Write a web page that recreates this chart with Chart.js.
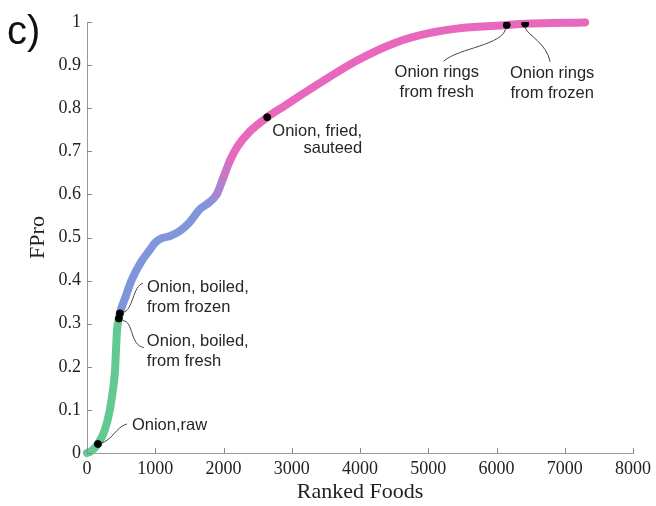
<!DOCTYPE html>
<html>
<head>
<meta charset="utf-8">
<script src="https://cdn.jsdelivr.net/npm/chart.js@4.4.0/dist/chart.umd.min.js"></script>
<style>
  html, body { margin: 0; padding: 0; background: #fff; }
  #wrap { width: 656px; height: 506px; }
</style>
</head>
<body>
<div id="wrap"><canvas id="fproChart"></canvas></div>
<script>
// ranked position of each food vs its FPro score
const rankedFoods = [0, 60, 115, 160, 260, 335, 380, 410, 425, 440, 467, 482, 560, 650, 800, 920, 1000, 1090, 1210, 1360, 1500, 1650, 1780, 1900, 2000, 2100, 2200, 2380, 2640, 2890, 3300, 3950, 4520, 5010, 5490, 6150, 6420, 7300];
const fproValues  = [0, 0.004, 0.012, 0.021, 0.053, 0.1, 0.146, 0.19, 0.24, 0.285, 0.312, 0.324, 0.36, 0.4, 0.445, 0.471, 0.488, 0.498, 0.503, 0.515, 0.535, 0.565, 0.58, 0.6, 0.64, 0.68, 0.71, 0.745, 0.779, 0.805, 0.847, 0.91, 0.952, 0.974, 0.986, 0.993, 0.996, 0.999];

// highlighted onion products
const markedNames = ['Onion,raw', 'Onion, boiled,\nfrom fresh', 'Onion, boiled,\nfrom frozen', 'Onion, fried,\nsauteed', 'Onion rings\nfrom fresh', 'Onion rings\nfrom frozen'];
const markedRanks = [160, 467, 482, 2640, 6150, 6420];
const markedFPro  = [0.021, 0.312, 0.324, 0.779, 0.993, 0.996];

const xTickValues = [0, 1000, 2000, 3000, 4000, 5000, 6000, 7000, 8000];
const yTickValues = [0, 0.1, 0.2, 0.3, 0.4, 0.5, 0.6, 0.7, 0.8, 0.9, 1];

const green = [99, 201, 146];
const blue = [128, 150, 219];
const pink = [232, 104, 190];

function colorForRank(r) {
    let c;
    if (r < 475) c = green;
    else if (r < 1800) c = blue;
    else if (r > 2150) c = pink;
    else {
        const t = (r - 1800) / 350;
        c = blue.map((v, i) => Math.round(v + (pink[i] - v) * t));
    }
    return 'rgb(' + c.join(',') + ')';
}

// label placement relative to each marked dot (pixels)
const labelLayout = [
    { dx: 34, dy: -18, lh: 20, align: 'left', lead: [[3, -1], [14, -3], [18, -17], [29, -20]] },
    { dx: 28, dy: 23, lh: 20, align: 'left', lead: [[4, 2], [15, 3], [11, 27], [25, 29]] },
    { dx: 27, dy: -26, lh: 20, align: 'left', lead: [[3, -1], [13, -2], [13, -28], [23, -30]] },
    { dx: 95, dy: 14, lh: 17, align: 'right', lead: null },
    { dx: -70, dy: 47, lh: 20, align: 'center', lead: [[-1, 3], [-3, 20], [-48, 23], [-63, 36]] },
    { dx: 27, dy: 50, lh: 20, align: 'center', lead: [[0, 4], [3, 12], [21, 19], [25, 38]] }
];

const annotatePlugin = {
    id: 'annotate',
    afterDraw(chart) {
        const ctx = chart.ctx;
        const xs = chart.scales.x;
        const ys = chart.scales.y;
        ctx.save();

        // inward tick marks
        ctx.strokeStyle = '#888';
        ctx.lineWidth = 1;
        xTickValues.forEach(v => {
            const px = Math.round(xs.getPixelForValue(v)) + 0.5;
            ctx.beginPath();
            ctx.moveTo(px, ys.bottom);
            ctx.lineTo(px, ys.bottom - 5);
            ctx.stroke();
        });
        yTickValues.forEach(v => {
            const py = Math.round(ys.getPixelForValue(v)) + 0.5;
            ctx.beginPath();
            ctx.moveTo(xs.left, py);
            ctx.lineTo(xs.left + 5, py);
            ctx.stroke();
        });

        // labels + leader lines
        ctx.font = '16.5px "Liberation Sans", Arial, sans-serif';
        ctx.fillStyle = '#262626';
        ctx.textBaseline = 'middle';
        markedNames.forEach((name, i) => {
            const px = xs.getPixelForValue(markedRanks[i]);
            const py = ys.getPixelForValue(markedFPro[i]);
            const lay = labelLayout[i];
            if (lay.lead) {
                const p = lay.lead;
                ctx.strokeStyle = '#444';
                ctx.lineWidth = 1;
                ctx.beginPath();
                ctx.moveTo(px + p[0][0], py + p[0][1]);
                ctx.bezierCurveTo(px + p[1][0], py + p[1][1], px + p[2][0], py + p[2][1], px + p[3][0], py + p[3][1]);
                ctx.stroke();
            }
            ctx.textAlign = lay.align;
            name.split('\n').forEach((line, j) => {
                ctx.fillText(line, px + lay.dx, py + lay.dy + j * lay.lh);
            });
        });

        // panel letter
        ctx.font = '40px "Liberation Sans", Arial, sans-serif';
        ctx.textAlign = 'left';
        ctx.textBaseline = 'alphabetic';
        ctx.fillStyle = '#111';
        ctx.fillText('c)', 7, 44);
        ctx.restore();
    }
};

const tickFont = { family: '"Liberation Serif", "Times New Roman", serif', size: 18 };
const titleFont = { family: '"Liberation Serif", "Times New Roman", serif', size: 22 };

new Chart(document.getElementById('fproChart'), {
    type: 'scatter',
    data: {
        datasets: [
            {
                label: 'Marked',
                data: markedRanks.map((r, i) => ({ x: r, y: markedFPro[i] })),
                backgroundColor: '#000',
                borderColor: '#000',
                pointRadius: 3.5,
                order: 0
            },
            {
                label: 'FPro',
                data: rankedFoods.map((r, i) => ({ x: r, y: fproValues[i] })),
                showLine: true,
                pointRadius: 0,
                borderWidth: 8,
                borderCapStyle: 'round',
                borderJoinStyle: 'round',
                cubicInterpolationMode: 'monotone',
                clip: false,
                segment: {
                    borderColor: c => colorForRank((c.p0.parsed.x + c.p1.parsed.x) / 2)
                },
                order: 1
            }
        ]
    },
    options: {
        responsive: true,
        maintainAspectRatio: false,
        animation: false,
        events: [],
        layout: { padding: { left: 0, right: 21, top: 22, bottom: 0 } },
        plugins: {
            legend: { display: false },
            tooltip: { enabled: false }
        },
        scales: {
            x: {
                type: 'linear',
                min: 0,
                max: 8000,
                afterBuildTicks: s => { s.ticks = xTickValues.map(v => ({ value: v })); },
                afterFit: s => { s.height = 53; },
                grid: { display: false, drawTicks: false },
                border: { display: true, color: '#999', width: 1 },
                ticks: { font: tickFont, color: '#222', padding: 5, maxRotation: 0, callback: v => String(v) },
                title: { display: true, text: 'Ranked Foods', font: titleFont, color: '#222', padding: { top: 0, bottom: 1 } }
            },
            y: {
                type: 'linear',
                min: 0,
                max: 1,
                afterBuildTicks: s => { s.ticks = yTickValues.map(v => ({ value: v })); },
                afterFit: s => { s.width = 87; },
                grid: { display: false, drawTicks: false },
                border: { display: true, color: '#999', width: 1 },
                ticks: { font: tickFont, color: '#222', padding: 6, callback: v => String(Number(v.toFixed(1))) },
                title: { display: true, text: 'FPro', font: titleFont, color: '#222', padding: { top: 25, bottom: 0 } }
            }
        }
    },
    plugins: [annotatePlugin]
});
</script>
</body>
</html>
